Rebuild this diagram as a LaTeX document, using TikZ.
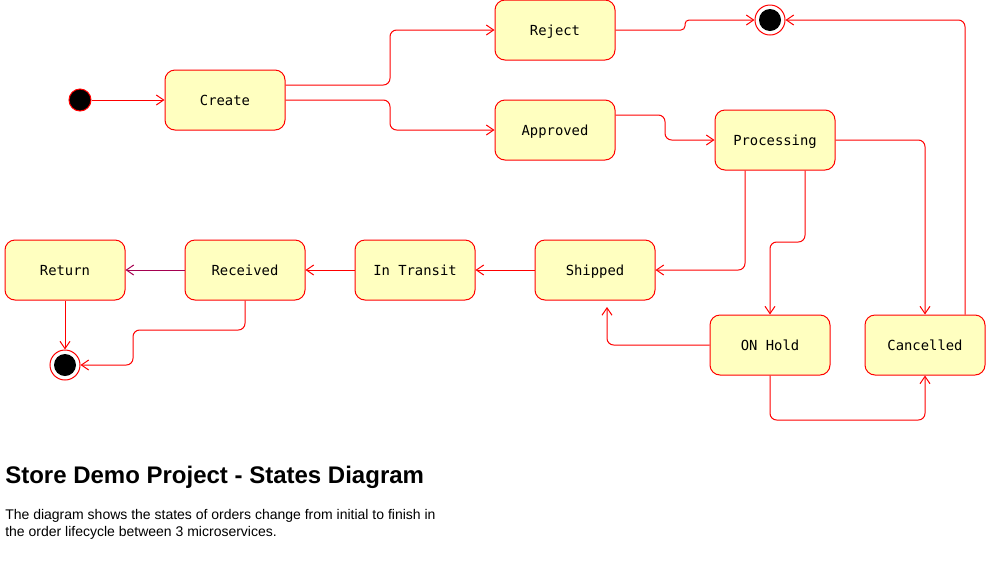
\documentclass[tikz,border=0pt]{standalone}
\usepackage{fontspec}
\setmainfont{Liberation Sans}
\newfontfamily\statefont{DejaVu Sans Mono}
\usetikzlibrary{arrows.meta}
\definecolor{stfill}{HTML}{FFFFC0}
\definecolor{stline}{HTML}{FF0000}
\definecolor{purp}{HTML}{A50050}
\begin{document}
\begin{tikzpicture}[x=0.75pt,y=-0.75pt,
  state/.style={draw=stline,fill=stfill,line width=0.75pt,rounded corners=7.5pt,minimum width=90pt,minimum height=45pt,inner sep=0pt,text height=8.8pt,text depth=1pt,font=\statefont\fontsize{10.4}{12}\selectfont},
  startnode/.style={circle,draw=stline,fill=black,line width=0.75pt,minimum size=16.5pt,inner sep=0pt},
  endnode/.style={circle,draw=stline,fill=white,line width=0.75pt,minimum size=22.5pt,inner sep=0pt,
    path picture={\fill[black] (path picture bounding box.center) circle (8.25pt);}},
  tr/.style={draw=stline,line width=0.75pt,rounded corners=5pt,-{Straight Barb[length=5.5pt,width=7.5pt]}}
]
\useasboundingbox (0,0) rectangle (986,576);
% nodes
\node[startnode] (init) at (80,100) {};
\node[state] (create) at (225,100) {Create};
\node[state] (reject) at (555,30) {Reject};
\node[state] (approved) at (555,130) {Approved};
\node[state] (processing) at (775,140) {Processing};
\node[endnode] (fin1) at (770,20) {};
\node[state] (return) at (65,270) {Return};
\node[state] (received) at (245,270) {Received};
\node[state] (transit) at (415,270) {In Transit};
\node[state] (shipped) at (595,270) {Shipped};
\node[state] (onhold) at (770,345) {ON Hold};
\node[state] (cancelled) at (925,345) {Cancelled};
\node[endnode] (fin2) at (65,365) {};
\coordinate (shipin) at (607,307);
% edges
\draw[tr] (init) -- (create);
\draw[tr] ([yshift=11.25pt]create.east) -- (390,85) |- (reject.west);
\draw[tr] (create.east) -- (390,100) |- (approved.west);
\draw[tr,rounded corners=3pt] (reject.east) -- (685,30) -- (685,20) -- (fin1.west);
\draw[tr] ([yshift=11.25pt]approved.east) -- (665,115) |- (processing.west);
\draw[tr] (processing.east) -| (cancelled.north);
\draw[tr] ([xshift=30pt]cancelled.north) |- (fin1.east);
\draw[tr] ([xshift=-22.5pt]processing.south) |- (shipped.east);
\draw[tr] ([xshift=22.5pt]processing.south) -- (805,242) -| (onhold.north);
\draw[tr] (onhold.west) -| (shipin);
\draw[tr] (onhold.south) -- (770,420) -| (cancelled.south);
\draw[tr] (shipped) -- (transit);
\draw[tr] (transit) -- (received);
\draw[tr,draw=purp] (received) -- (return);
\draw[tr] (return) -- (fin2);
\draw[tr] (received.south) -- (245,330) -- (133,330) |- (fin2.east);
% text
\node[anchor=base west,inner sep=0pt,font=\bfseries\fontsize{18}{21}\selectfont] (title) at (5,483) {Store Demo Project - States Diagram};
\node[anchor=base west,inner sep=0pt,font=\fontsize{10.5}{12.75}\selectfont,align=left] (desc) at (5,536) {The diagram shows the states of orders change from initial to finish in\\the order lifecycle between 3 microservices.};
\end{tikzpicture}
\end{document}
